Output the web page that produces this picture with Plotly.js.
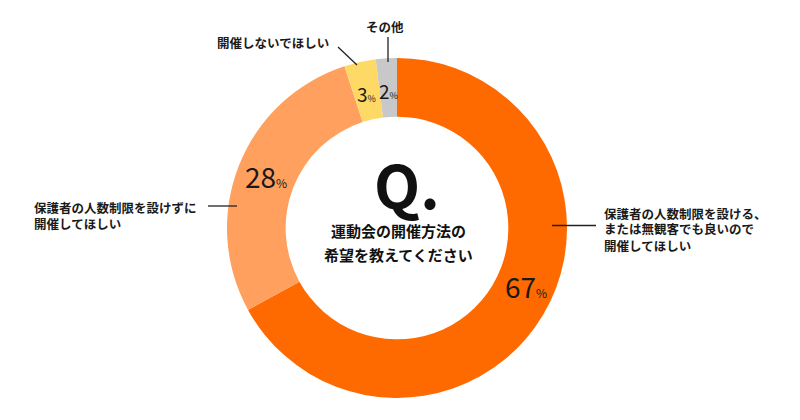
<!DOCTYPE html>
<html>
<head>
<meta charset="utf-8">
<script src="https://cdn.plot.ly/plotly-3.0.1.min.js"></script>
<style>html,body{margin:0;padding:0;background:#fff;}</style>
</head>
<body>
<div id="chart" style="width:800px;height:420px;"></div>
<script>
// ---- data ----
const categories = [
  "保護者の人数制限を設ける、<br>または無観客でも良いので<br>開催してほしい",
  "保護者の人数制限を設けずに<br>開催してほしい",
  "開催しないでほしい",
  "その他"
];
const values = [67, 28, 3, 2];
const colors = ["#FF6A00", "#FFA05E", "#FFD966", "#C8C8C8"];
const questionMark = "Q.";
const questionText = "運動会の開催方法の<br>希望を教えてください";

// ---- geometry helpers ----
const W = 800, H = 420;
const cx = 397, cy = 228, R = 170;
const FONT = '"Noto Sans CJK JP", "Noto Sans", sans-serif';
const P = (x, y) => ({x: x / W, y: 1 - y / H});

const total = values.reduce((a, b) => a + b, 0);
let cum = 0;
const annotations = [];
values.forEach((v, i) => {
  const mid = (cum + v / 2) / total * 2 * Math.PI;
  cum += v;
  const big = v >= 10;
  const r = big ? 141 : 138;
  let x = cx + r * Math.sin(mid);
  let y = cy - r * Math.cos(mid);
  if (i === 0) { x += 8; y -= 14; }
  const p = P(x, y);
  annotations.push({
    xref: 'paper', yref: 'paper', x: p.x, y: p.y,
    xanchor: 'center', yanchor: 'middle', showarrow: false,
    text: v + "<span style='font-size:" + (big ? 12 : 9) + "px'>%</span>",
    font: {family: FONT, size: big ? 28 : 19, color: '#1a1a1a'}
  });
});

// multi-line text as one annotation per line
const lines = (text, x, y0, step, xanchor, font) => {
  text.split('<br>').forEach((t, k) => {
    const p = P(x, y0 + k * step);
    annotations.push({xref:'paper', yref:'paper', x:p.x, y:p.y, xanchor, yanchor:'middle',
      showarrow:false, text: t, font: font});
  });
};

// center question
const q = P(407, 182);
annotations.push({xref:'paper', yref:'paper', x:q.x, y:q.y, xanchor:'center', yanchor:'middle',
  showarrow:false, text: questionMark,
  font:{family: FONT, size: 60, color:'#111', weight: 'bold'}});
lines(questionText, 398, 230, 25, 'center', {family: FONT, size: 15, color:'#111', weight:'bold'});

// category labels
const labFont = {family: FONT, size: 12.5, color:'#1a1a1a', weight: 'bold'};
lines(categories[0], 602, 213, 16, 'left', labFont);
lines(categories[1], 32, 207, 16, 'left', labFont);
lines(categories[2], 273, 43, 16, 'center', labFont);
lines(categories[3], 385, 26, 16, 'center', labFont);

const seg = (x0, y0, x1, y1) => {
  const a = P(x0, y0), b = P(x1, y1);
  return {type:'line', xref:'paper', yref:'paper', x0:a.x, y0:a.y, x1:b.x, y1:b.y,
    line:{color:'#222', width:1.3}};
};
const shapes = [
  seg(552, 225.5, 596, 225.5),
  seg(208, 206, 237, 206),
  seg(338, 47, 357, 65),
  seg(388, 37, 388, 62)
];

const trace = {
  type: 'pie',
  values: values,
  labels: categories,
  marker: {colors: colors, line: {width: 0}},
  hole: 0.655,
  sort: false,
  direction: 'clockwise',
  rotation: 0,
  textinfo: 'none',
  hoverinfo: 'skip',
  domain: {x: [(cx - R) / W, (cx + R) / W], y: [1 - (cy + R) / H, 1 - (cy - R) / H]}
};

Plotly.newPlot('chart', [trace], {
  width: W, height: H,
  margin: {l:0, r:0, t:0, b:0},
  showlegend: false,
  paper_bgcolor: '#fff',
  annotations: annotations,
  shapes: shapes
}, {displayModeBar: false, staticPlot: true});
</script>
</body>
</html>
